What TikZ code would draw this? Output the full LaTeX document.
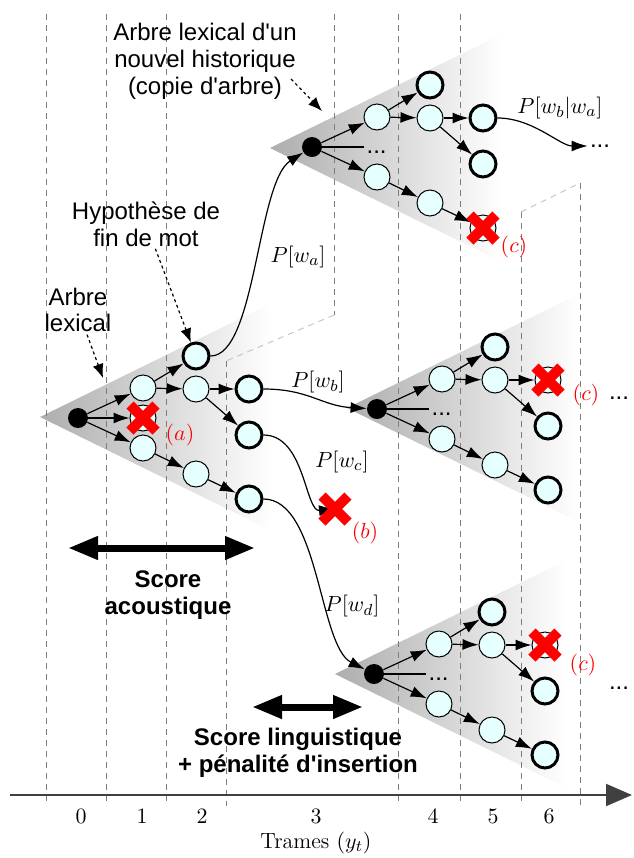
\documentclass[tikz,border=0pt]{standalone}
\usepackage{fontspec}
\setsansfont{Liberation Sans}
\usepackage{tikz}
\usetikzlibrary{arrows.meta,positioning}
\definecolor{cyanpale}{RGB}{230,255,255}
\definecolor{gristrame}{RGB}{125,125,125}

\begin{document}
\begin{tikzpicture}[x=0.5pt,y=-0.5pt,
		noeud/.style={circle, draw, fill=cyanpale, minimum size=13pt, inner sep=0pt, line width=0.5pt},
		fin/.style={noeud, line width=1.5pt},
		racine/.style={circle, fill=black, minimum size=10pt, inner sep=0pt},
		fleche/.style={-{Latex[length=8pt,width=5.5pt]}, line width=0.6pt},
		trame/.style={gristrame, dash pattern=on 3pt off 2.5pt, line width=0.5pt},
		fuite/.style={gray!45, dash pattern=on 3pt off 2.5pt, line width=0.5pt},
		cornet/.style={left color=black!32, right color=white},
		etiq/.style={font=\sffamily\fontsize{12}{13.4}\selectfont, align=center, inner sep=1pt},
		score/.style={font=\sffamily\bfseries\fontsize{12}{13.4}\selectfont, align=center},
		points/.style={font=\sffamily\fontsize{12}{13}\selectfont, inner sep=1pt},
		pointille/.style={-{Latex[length=7pt,width=5.5pt]}, dash pattern=on 1.5pt off 1.5pt, line width=0.6pt},
		portee/.style={{Triangle[length=15pt,width=11pt]}-{Triangle[length=15pt,width=11pt]}, line width=3.5pt},
		rouge/.style={red, font=\fontsize{11}{11}\selectfont},
		proba/.style={font=\fontsize{11}{11}\selectfont},
		croix/.pic={\draw[red, line width=5pt] (-6.5pt,-6.5pt) -- (6.5pt,6.5pt) (-6.5pt,6.5pt) -- (6.5pt,-6.5pt);}
		]
		\useasboundingbox (0,0) rectangle (633,858);
		
		% cones des arbres lexicaux
		\foreach \p in {(40,417),(270,148),(347,408),(335,674)}
			\shade[cornet] \p -- ++(232,-114) -- ++(0,228) -- cycle;
		
		% trames
		\foreach \x in {46,106,166,398,460}
			\draw[trame] (\x,14) -- (\x,806);
		\draw[trame] (226,361) -- (226,806);
		\draw[trame] (334,14) -- (334,315);
		\draw[trame] (521,212) -- (521,806);
		\draw[trame] (580,183) -- (580,806);
		\draw[fuite] (334,315) -- (226,361);
		\draw[fuite] (521,212) -- (580,183);
		
		\draw[-{Triangle[length=13pt,width=11pt]}, line width=1pt, black!75] (10,795) -- (632,795);
		\foreach \x/\n in {81/0,142/1,202/2,316/3,433/4,493/5,549/6}
			\node[proba] (t\n) at (\x,816) {$\n$};
		\node[proba] (trames) at (316,843) {Trames $(y_t)$};
		
		% arbres
		\foreach \arb/\X/\Y/\sa/\sc in {a/78/418/fin/fin, b/312/147/fin/noeud, c/377/409/noeud/fin, d/374/674/noeud/fin}{
			\node[racine] (\arb0) at (\X,\Y) {};
			\node[noeud] (\arb1) at (\X+65,\Y-30) {};
			\node[noeud] (\arb2) at (\X+65,\Y+30) {};
			\node[fin] (\arb3) at (\X+118,\Y-62) {};
			\node[noeud] (\arb4) at (\X+118,\Y-29) {};
			\node[noeud] (\arb5) at (\X+118,\Y+56) {};
			\node[\sa] (\arb6) at (\X+171,\Y-29) {};
			\node[fin] (\arb7) at (\X+171,\Y+17) {};
			\node[\sc] (\arb8) at (\X+171,\Y+81) {};
			\foreach \u/\v in {0/1,0/2,1/3,1/4,4/6,4/7,2/5,5/8}
				\draw[fleche] (\arb\u) -- (\arb\v);
		}
		\node[noeud] (am) at (143,418) {};
		\draw[fleche] (a0) -- (am);
		\foreach \arb in {b,c,d}
			\draw[line width=0.6pt] (\arb0) -- ++(52,0) node[points, anchor=west, yshift=-2.5pt] (\arb z) {...};
		
		% transitions entre arbres
		\coordinate (xb) at (335,509);
		\node[points] (bs) at (600,146) {...};
		\node[points] (cs) at (619,398) {...};
		\node[points] (ds) at (619,688) {...};
		\draw[fleche] (a3) .. controls +(60,0) and +(-55,35) .. (b0);
		\draw[fleche] (a6) .. controls +(60,0) and +(-55,-3) .. (c0);
		\draw[fleche] (a7) .. controls +(56,0) and +(-30,3) .. (xb);
		\draw[fleche] (a8) .. controls +(70,0) and +(-55,-28) .. (d0);
		\draw[fleche] (b6) .. controls +(50,0) and +(-40,0) .. (bs);
		\node[proba] (pa) at (298,257) {$P[w_a]$};
		\node[proba] (pb) at (318,382) {$P[w_b]$};
		\node[proba] (pc) at (342,462) {$P[w_c]$};
		\node[proba] (pd) at (352,606) {$P[w_d]$};
		\node[proba] (pba) at (560,108) {$P[w_b|w_a]$};
		
		% hypotheses elaguees
		\pic at (am) {croix};
		\pic at (xb) {croix};
		\pic at (b8) {croix};
		\pic at (c6) {croix};
		\pic at (d6) {croix};
		\path (am) ++(37,17) node[rouge] (la) {$(a)$};
		\path (xb) ++(30,24) node[rouge] (lb) {$(b)$};
		\path (b8) ++(31,19) node[rouge] (lcb) {$(c)$};
		\path (c6) ++(38,15) node[rouge] (lcc) {$(c)$};
		\path (d6) ++(38,20) node[rouge] (lcd) {$(c)$};
		
		% legendes
		\node[etiq] (arbre) at (78,310) {Arbre\\lexical};
		\node[etiq] (hypo) at (146,224) {Hypothèse de\\fin de mot};
		\node[etiq] (copie) at (205,61) {Arbre lexical d\textquotesingle un\\nouvel historique\\(copie d\textquotesingle arbre)};
		\coordinate (bordA) at (103,378);
		\coordinate (bordB) at (322,111);
		\draw[pointille] (arbre) -- (bordA);
		\draw[pointille] (hypo) -- (a3);
		\draw[pointille] ([shift={(-8,18)}]copie.east) -- (bordB);
		
		\coordinate (sa1) at (68,548);
		\coordinate (sa2) at (255,548);
		\draw[portee] (sa1) -- (sa2);
		\node[score] (sac) at (168,595) {Score\\acoustique};
		\coordinate (sl1) at (252,707);
		\coordinate (sl2) at (363,707);
		\draw[portee] (sl1) -- (sl2);
		\node[score] (sli) at (298,753) {Score linguistique\\+ pénalité d\textquotesingle insertion};
\end{tikzpicture}
\end{document}
